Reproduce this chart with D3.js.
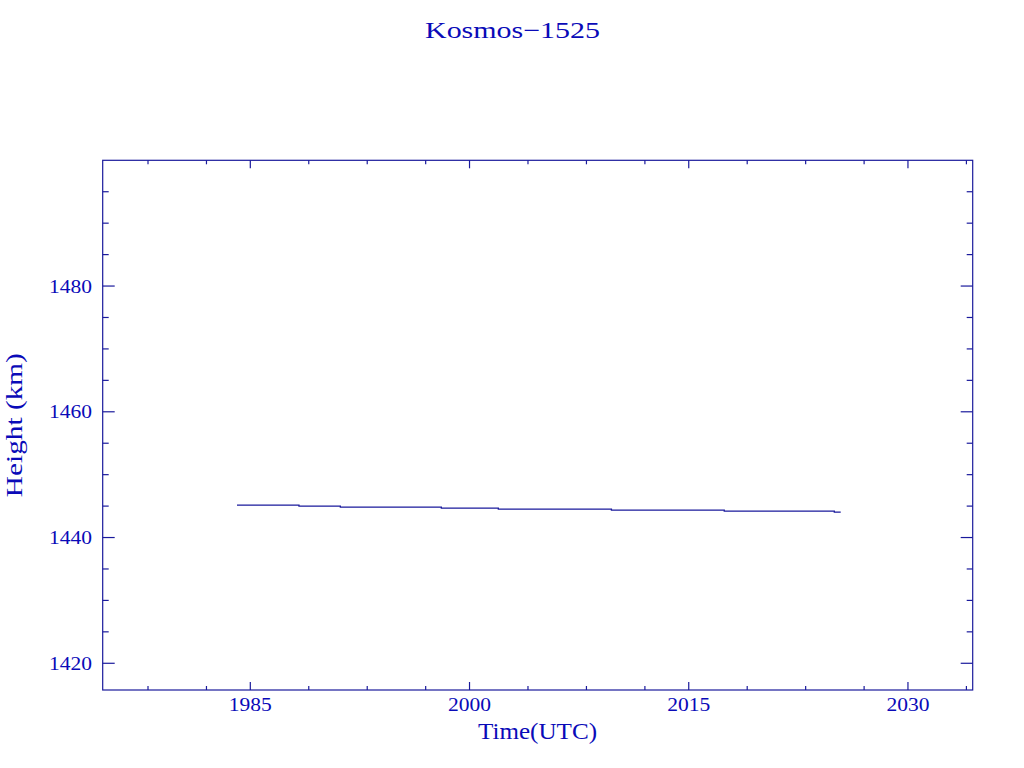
<!DOCTYPE html>
<html><head><meta charset="utf-8">
<script src="https://cdn.jsdelivr.net/npm/d3@7"></script>
<style>body{margin:0;background:#fff;} svg{display:block;}</style>
</head><body>
<script>
const title = "Kosmos\u22121525";
const xLabel = "Time(UTC)";
const yLabel = "Height (km)";
const years = [1984.09, 1988.33, 1991.16, 1998.07, 2001.97, 2009.71, 2017.43, 2024.96, 2025.40];
const heights = [1445.14, 1444.98, 1444.83, 1444.67, 1444.51, 1444.35, 1444.19, 1444.03, 1444.03];
const xMajor = [1985, 2000, 2015, 2030];
const xMinor = [1978, 1982, 1989, 1993, 1997, 2004, 2008, 2012, 2019, 2023, 2027, 2034];
const yMajor = [1420, 1440, 1460, 1480];
const yMinor = [1425, 1430, 1435, 1445, 1450, 1455, 1465, 1470, 1475, 1485, 1490, 1495];

const W = 1024, H = 768;
const L = 102.7, R = 972.7, T = 160.3, B = 690;
const axisCol = "#1a1a9c", textCol = "#0a0ab8";
const font = "'Liberation Serif','DejaVu Serif',serif";

const svg = d3.select("body").append("svg").attr("width", W).attr("height", H);
const x = d3.scaleLinear().domain([1974.9, 2034.43]).range([L, R]);
const y = d3.scaleLinear().domain([1415.75, 1500]).range([B, T]);

// frame
svg.append("rect").attr("x", L).attr("y", T).attr("width", R - L).attr("height", B - T)
  .attr("fill", "none").attr("stroke", axisCol).attr("stroke-width", 1.2);

const g = svg.append("g").attr("stroke", axisCol).attr("stroke-width", 1.2);
xMajor.forEach(v => {
  g.append("line").attr("x1", x(v)).attr("x2", x(v)).attr("y1", B).attr("y2", B - 8);
  g.append("line").attr("x1", x(v)).attr("x2", x(v)).attr("y1", T).attr("y2", T + 8);
});
xMinor.forEach(v => {
  g.append("line").attr("x1", x(v)).attr("x2", x(v)).attr("y1", B).attr("y2", B - 4);
  g.append("line").attr("x1", x(v)).attr("x2", x(v)).attr("y1", T).attr("y2", T + 4);
});
yMajor.forEach(v => {
  g.append("line").attr("x1", L).attr("x2", L + 12).attr("y1", y(v)).attr("y2", y(v));
  g.append("line").attr("x1", R).attr("x2", R - 12).attr("y1", y(v)).attr("y2", y(v));
});
yMinor.forEach(v => {
  g.append("line").attr("x1", L).attr("x2", L + 6).attr("y1", y(v)).attr("y2", y(v));
  g.append("line").attr("x1", R).attr("x2", R - 6).attr("y1", y(v)).attr("y2", y(v));
});

svg.selectAll(".xl").data(xMajor).enter().append("text")
  .attr("x", d => x(d)).attr("y", 711).attr("text-anchor", "middle")
  .attr("font-family", font).attr("font-size", 19)
  .attr("textLength", 43).attr("lengthAdjust", "spacingAndGlyphs")
  .attr("fill", textCol).text(d => d);
svg.selectAll(".yl").data(yMajor).enter().append("text")
  .attr("x", 92).attr("y", d => y(d) + 6.5).attr("text-anchor", "end")
  .attr("font-family", font).attr("font-size", 19)
  .attr("textLength", 43).attr("lengthAdjust", "spacingAndGlyphs")
  .attr("fill", textCol).text(d => d);

svg.append("text").attr("x", 512.5).attr("y", 38).attr("text-anchor", "middle")
  .attr("font-family", font).attr("font-size", 23)
  .attr("textLength", 175).attr("lengthAdjust", "spacingAndGlyphs")
  .attr("fill", textCol).text(title);
svg.append("text").attr("x", 537.5).attr("y", 739).attr("text-anchor", "middle")
  .attr("font-family", font).attr("font-size", 23)
  .attr("textLength", 119).attr("lengthAdjust", "spacingAndGlyphs")
  .attr("fill", textCol).text(xLabel);
svg.append("text").attr("transform", `translate(22,${(T + B) / 2}) rotate(-90)`)
  .attr("text-anchor", "middle")
  .attr("font-family", font).attr("font-size", 23)
  .attr("textLength", 144).attr("lengthAdjust", "spacingAndGlyphs")
  .attr("fill", textCol).text(yLabel);

const pts = years.map((yr, i) => [yr, heights[i]]);
const line = d3.line().x(d => x(d[0])).y(d => y(d[1])).curve(d3.curveStepAfter);
svg.append("path").datum(pts).attr("d", line)
  .attr("fill", "none").attr("stroke", axisCol).attr("stroke-width", 1.3);
</script>
</body></html>
